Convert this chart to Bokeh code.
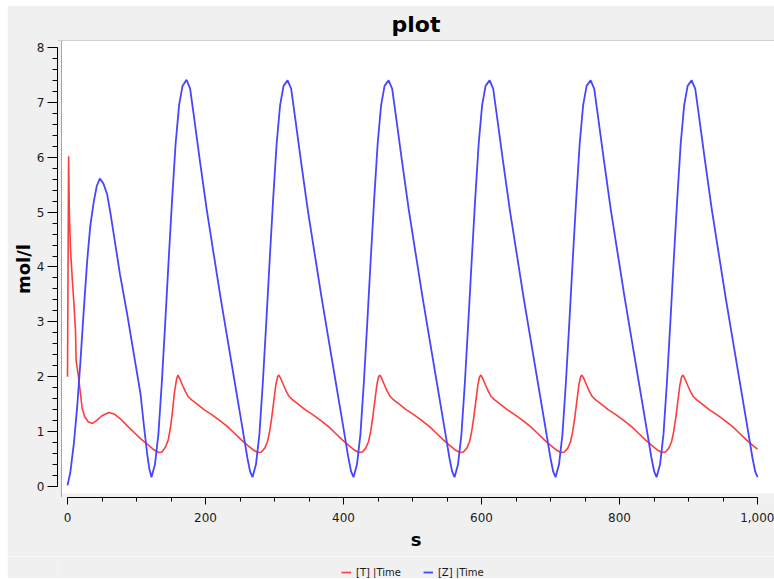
from bokeh.plotting import figure
from bokeh.layouts import column
from bokeh.models import (Range1d, SingleIntervalTicker, NumeralTickFormatter,
                          BoxAnnotation, Span, Legend, LegendItem)
from bokeh.embed import file_html
from bokeh.resources import INLINE

# ---------------- data ----------------
title_text = "plot"
x_label = "s"
y_label = "mol/l"
series_names = ["[T] |Time", "[Z] |Time"]

# [T] (red)
t_T = [0, 0.8, 1.6, 2.6, 4.3, 6.8, 9.2, 11.6, 12.5, 16.4, 21.3, 25, 30, 36, 42, 50, 60, 68,
       77, 87, 97, 107, 116, 124, 132, 137, 142, 146, 149.3, 152, 155, 158,
       159.9, 162.9, 166.9, 170.9, 174.9, 179.9, 187.9, 197.9, 207.9, 219.9, 231.9, 241.9,
       251.9, 261.9, 269.9, 275.9, 280.9, 285.9, 289.9, 292.9, 295.9, 298.9, 301.9, 304.4,
       306.3, 309.3, 313.3, 317.3, 321.3, 326.3, 334.3, 344.3, 354.3, 366.3, 378.3, 388.3,
       398.3, 408.3, 416.3, 422.3, 427.3, 432.3, 436.3, 439.3, 442.3, 445.3, 448.3, 450.8,
       452.7, 455.7, 459.7, 463.7, 467.7, 472.7, 480.7, 490.7, 500.7, 512.7, 524.7, 534.7,
       544.7, 554.7, 562.7, 568.7, 573.7, 578.7, 582.7, 585.7, 588.7, 591.7, 594.7, 597.2,
       599.1, 602.1, 606.1, 610.1, 614.1, 619.1, 627.1, 637.1, 647.1, 659.1, 671.1, 681.1,
       691.1, 701.1, 709.1, 715.1, 720.1, 725.1, 729.1, 732.1, 735.1, 738.1, 741.1, 743.6,
       745.5, 748.5, 752.5, 756.5, 760.5, 765.5, 773.5, 783.5, 793.5, 805.5, 817.5, 827.5,
       837.5, 847.5, 855.5, 861.5, 866.5, 871.5, 875.5, 878.5, 881.5, 884.5, 887.5, 890.0,
       891.9, 894.9, 898.9, 902.9, 906.9, 911.9, 919.9, 929.9, 939.9, 951.9, 963.9, 973.9,
       983.9, 993.9, 1000]
c_T = [2.0, 4.0, 6.02, 5.0, 4.35, 3.8, 3.35, 2.84, 2.3, 1.95, 1.42, 1.27, 1.18, 1.15, 1.2, 1.29, 1.35, 1.32,
       1.23, 1.1, 0.98, 0.86, 0.77, 0.68, 0.62, 0.63, 0.72, 0.85, 1.08, 1.35, 1.72, 1.95,
       2.03, 1.96, 1.84, 1.73, 1.64, 1.58, 1.5, 1.4, 1.32, 1.21, 1.09, 0.97,
       0.85, 0.74, 0.66, 0.62, 0.63, 0.7, 0.82, 1.0, 1.25, 1.55, 1.85, 2.0,
       2.03, 1.96, 1.84, 1.73, 1.64, 1.58, 1.5, 1.4, 1.32, 1.21, 1.09, 0.97,
       0.85, 0.74, 0.66, 0.62, 0.63, 0.7, 0.82, 1.0, 1.25, 1.55, 1.85, 2.0,
       2.03, 1.96, 1.84, 1.73, 1.64, 1.58, 1.5, 1.4, 1.32, 1.21, 1.09, 0.97,
       0.85, 0.74, 0.66, 0.62, 0.63, 0.7, 0.82, 1.0, 1.25, 1.55, 1.85, 2.0,
       2.03, 1.96, 1.84, 1.73, 1.64, 1.58, 1.5, 1.4, 1.32, 1.21, 1.09, 0.97,
       0.85, 0.74, 0.66, 0.62, 0.63, 0.7, 0.82, 1.0, 1.25, 1.55, 1.85, 2.0,
       2.03, 1.96, 1.84, 1.73, 1.64, 1.58, 1.5, 1.4, 1.32, 1.21, 1.09, 0.97,
       0.85, 0.74, 0.66, 0.62, 0.63, 0.7, 0.82, 1.0, 1.25, 1.55, 1.85, 2.0,
       2.03, 1.96, 1.84, 1.73, 1.64, 1.58, 1.5, 1.4, 1.32, 1.21, 1.09, 0.97,
       0.85, 0.74, 0.68]

# [Z] (blue)
t_Z = [0, 4, 9.2, 14, 18.8, 23.5, 28.5, 33, 38.2, 42.5, 46.9, 52, 57.5, 62, 67.1, 76, 86.5,
       96, 105.8, 111, 115.5, 118.5,
       121.7, 126.7, 131.7, 136.7, 141.7, 146.7, 151.7, 156.7, 161.7, 166.7, 172.5, 177.7,
       183.7, 191.7, 201.7, 211.7, 221.7, 231.7, 241.7, 249.7, 255.7, 260.7, 264.7,
       268.1, 273.1, 278.1, 283.1, 288.1, 293.1, 298.1, 303.1, 308.1, 313.1, 318.9, 324.1,
       330.1, 338.1, 348.1, 358.1, 368.1, 378.1, 388.1, 396.1, 402.1, 407.1, 411.1,
       414.5, 419.5, 424.5, 429.5, 434.5, 439.5, 444.5, 449.5, 454.5, 459.5, 465.3, 470.5,
       476.5, 484.5, 494.5, 504.5, 514.5, 524.5, 534.5, 542.5, 548.5, 553.5, 557.5,
       560.9, 565.9, 570.9, 575.9, 580.9, 585.9, 590.9, 595.9, 600.9, 605.9, 611.7, 616.9,
       622.9, 630.9, 640.9, 650.9, 660.9, 670.9, 680.9, 688.9, 694.9, 699.9, 703.9,
       707.3, 712.3, 717.3, 722.3, 727.3, 732.3, 737.3, 742.3, 747.3, 752.3, 758.1, 763.3,
       769.3, 777.3, 787.3, 797.3, 807.3, 817.3, 827.3, 835.3, 841.3, 846.3, 850.3,
       853.7, 858.7, 863.7, 868.7, 873.7, 878.7, 883.7, 888.7, 893.7, 898.7, 904.5, 909.7,
       915.7, 923.7, 933.7, 943.7, 953.7, 963.7, 973.7, 981.7, 987.7, 992.7, 996.7,
       1000]
c_Z = [0.02, 0.25, 0.78, 1.45, 2.29, 3.2, 4.11, 4.75, 5.2, 5.48, 5.61, 5.52, 5.32, 5.0, 4.59, 3.87, 3.14,
       2.42, 1.69, 1.08, 0.59, 0.33,
       0.17, 0.4, 0.95, 1.9, 3.0, 4.15, 5.25, 6.25, 6.95, 7.3, 7.41, 7.25,
       6.7, 5.95, 5.05, 4.25, 3.45, 2.7, 1.95, 1.35, 0.9, 0.52, 0.27,
       0.17, 0.4, 0.95, 1.9, 3.0, 4.15, 5.25, 6.25, 6.95, 7.3, 7.4, 7.25,
       6.7, 5.95, 5.05, 4.25, 3.45, 2.7, 1.95, 1.35, 0.9, 0.52, 0.27,
       0.17, 0.4, 0.95, 1.9, 3.0, 4.15, 5.25, 6.25, 6.95, 7.3, 7.4, 7.25,
       6.7, 5.95, 5.05, 4.25, 3.45, 2.7, 1.95, 1.35, 0.9, 0.52, 0.27,
       0.17, 0.4, 0.95, 1.9, 3.0, 4.15, 5.25, 6.25, 6.95, 7.3, 7.4, 7.25,
       6.7, 5.95, 5.05, 4.25, 3.45, 2.7, 1.95, 1.35, 0.9, 0.52, 0.27,
       0.17, 0.4, 0.95, 1.9, 3.0, 4.15, 5.25, 6.25, 6.95, 7.3, 7.4, 7.25,
       6.7, 5.95, 5.05, 4.25, 3.45, 2.7, 1.95, 1.35, 0.9, 0.52, 0.27,
       0.17, 0.4, 0.95, 1.9, 3.0, 4.15, 5.25, 6.25, 6.95, 7.3, 7.4, 7.25,
       6.7, 5.95, 5.05, 4.25, 3.45, 2.7, 1.95, 1.35, 0.9, 0.52, 0.27,
       0.17]

x_bounds = (0, 1000)
y_bounds = (0, 8)

# ---------------- main figure ----------------
BG = "#f0f0f0"
FONT = "DejaVu Sans"
RED = "#ff3c3c"
BLUE = "#4646ff"

p = figure(width=767, height=551, output_backend="svg", toolbar_location=None,
           x_range=Range1d(-14.5, 1024.6), y_range=Range1d(-0.2, 8.127),
           min_border_left=50, min_border_right=0, min_border_top=34, min_border_bottom=59)
p.margin = (5, 0, 0, 7)
p.background_fill_color = BG
p.border_fill_color = BG
p.outline_line_color = None
p.grid.visible = False

# white plotting area (offset from the axes like the reference)
p.add_layout(BoxAnnotation(left=-8.7, bottom=-0.127, fill_color="white", fill_alpha=1.0,
                           line_color=None, level="underlay"))
p.add_layout(Span(location=-8.7, dimension="height", line_color="#a8a8a8", line_width=1,
                  level="underlay"))
p.add_layout(Span(location=8.127, dimension="width", line_color="#a8a8a8", line_width=1,
                  level="underlay"))

# title
p.title.text = title_text
p.title.align = "center"
p.title.text_font = FONT
p.title.text_font_size = "22px"
p.title.text_font_style = "bold"
p.title.text_color = "#000000"
p.title.standoff = 8

# axes
xa = p.xaxis[0]
xa.ticker = SingleIntervalTicker(interval=200, num_minor_ticks=4)
xa.formatter = NumeralTickFormatter(format="0,0")
xa.bounds = x_bounds
xa.major_tick_out = 7
xa.major_tick_in = 0
xa.minor_tick_out = 4
xa.minor_tick_in = 0
xa.major_label_standoff = 8
xa.axis_label = x_label
xa.axis_label_standoff = 4

ya = p.yaxis[0]
ya.ticker = SingleIntervalTicker(interval=1, num_minor_ticks=5)
ya.bounds = y_bounds
ya.major_tick_out = 10
ya.major_tick_in = 0
ya.minor_tick_out = 5
ya.minor_tick_in = 0
ya.major_label_standoff = 3
ya.axis_label = y_label
ya.axis_label_standoff = 0

for ax in (xa, ya):
    ax.axis_line_color = "#000000"
    ax.major_tick_line_color = "#000000"
    ax.minor_tick_line_color = "#000000"
    ax.major_label_text_font = FONT
    ax.major_label_text_font_size = "12px"
    ax.major_label_text_color = "#1a1a1a"
    ax.axis_label_text_font = FONT
    ax.axis_label_text_font_size = "18px"
    ax.axis_label_text_font_style = "bold"
    ax.axis_label_text_color = "#000000"

# series
rT = p.line(t_T, c_T, line_color=RED, line_width=1.6)
rZ = p.line(t_Z, c_Z, line_color=BLUE, line_width=1.8)

# ---------------- legend strip (below the main figure) ----------------
# same series drawn into a strip whose ranges show none of it: only the legend is visible
lg = figure(width=767, height=22, output_backend="svg", toolbar_location=None,
            x_range=Range1d(-3, -2), y_range=Range1d(-3, -2),
            x_axis_location=None, y_axis_location=None,
            min_border_left=50, min_border_right=0, min_border_top=0, min_border_bottom=0)
lg.margin = (0, 0, 0, 7)
lg.background_fill_color = BG
lg.border_fill_color = BG
lg.outline_line_color = None
lg.grid.visible = False
kT = lg.line(t_T, c_T, line_color=RED, line_width=1.6)
kZ = lg.line(t_Z, c_Z, line_color=BLUE, line_width=1.8)

legend = Legend(items=[LegendItem(label=series_names[0], renderers=[kT]),
                       LegendItem(label=series_names[1], renderers=[kZ])],
                orientation="horizontal", location=(284, 0),
                glyph_width=10, glyph_height=10, label_height=12, label_standoff=5,
                spacing=22, padding=2, margin=0,
                label_text_font=FONT, label_text_font_size="10px",
                label_text_color="#1a1a1a",
                border_line_color=None, background_fill_alpha=0)
lg.add_layout(legend)

layout = column(p, lg, spacing=0)
open("out.html", "w").write(file_html(layout, INLINE))
